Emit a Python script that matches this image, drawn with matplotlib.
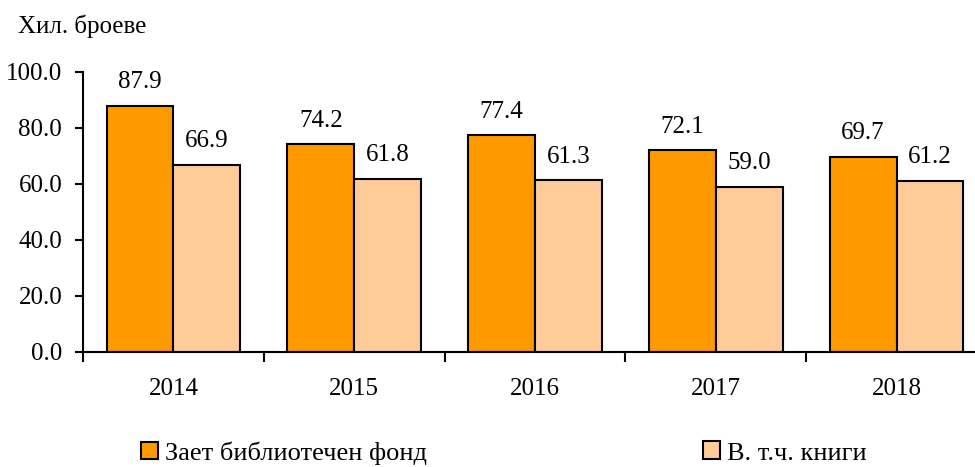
import matplotlib.pyplot as plt
import numpy as np

plt.rcParams['font.family'] = ['Liberation Serif', 'DejaVu Serif']

# данни
years = ['2014', '2015', '2016', '2017', '2018']
fond = [87.9, 74.2, 77.4, 72.1, 69.7]
knigi = [66.9, 61.8, 61.3, 59.0, 61.2]

c_fond = '#FF9900'
c_knigi = '#FFCC99'

fig = plt.figure(figsize=(9.75, 4.67), dpi=100)
ax = fig.add_axes([83 / 975, 1 - 352 / 467, 904 / 975, 280 / 467])

x = np.arange(len(years))
w = 0.37
b1 = ax.bar(x - w / 2, fond, w, color=c_fond, edgecolor='black', linewidth=1.5,
            label='Зает библиотечен фонд')
b2 = ax.bar(x + w / 2, knigi, w, color=c_knigi, edgecolor='black', linewidth=1.5,
            label='В. т.ч. книги')

for bars in (b1, b2):
    for r in bars:
        ax.annotate('{:.1f}'.format(r.get_height()),
                    (r.get_x() + r.get_width() / 2, r.get_height()),
                    xytext=(0, 9), textcoords='offset points',
                    ha='center', va='bottom', fontsize=18)

ax.set_xlim(-0.5, len(years) - 0.5)
ax.set_ylim(0, 100)
ax.set_yticks(np.arange(0, 101, 20))
ax.set_yticklabels(['{:.1f}'.format(v) for v in np.arange(0, 101, 20)], fontsize=18)

# подписи на категориите без чертички, чертички между групите
ax.set_xticks(x)
ax.set_xticklabels(years, fontsize=18)
ax.tick_params(axis='x', which='major', length=0, pad=19)
ax.set_xticks(np.arange(-0.5, len(years), 1), minor=True)
ax.tick_params(axis='x', which='minor', length=7, width=1.5, direction='out')
ax.tick_params(axis='y', length=6, width=1.5, direction='out', pad=9)

for s in ['top', 'right']:
    ax.spines[s].set_visible(False)
for s in ['left', 'bottom']:
    ax.spines[s].set_linewidth(1.5)

fig.text(18 / 975, 1 - 26 / 467, 'Хил. броеве', fontsize=18, va='center', ha='left')

# легенда
for h, xpos in ((b1, 141), (b2, 703)):
    fig.legend(handles=[h], loc='center left', bbox_to_anchor=(xpos / 975, 1 - 453 / 467),
               frameon=False, fontsize=19, handlelength=0.65, handleheight=0.65,
               handletextpad=0.25, borderpad=0, borderaxespad=0)

fig.savefig('out.png', dpi=100)
